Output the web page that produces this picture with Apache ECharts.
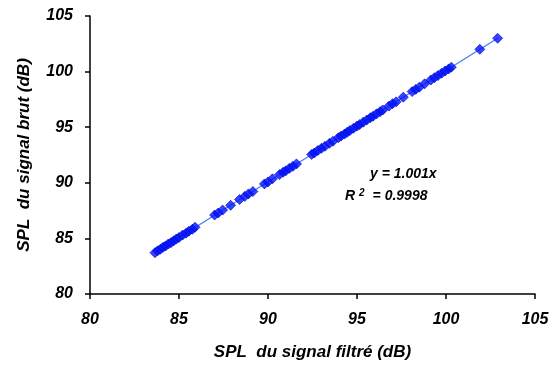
<!DOCTYPE html>
<html><head><meta charset="utf-8">
<script src="https://cdn.jsdelivr.net/npm/echarts@6/dist/echarts.min.js"></script>
<style>html,body{margin:0;padding:0;background:#fff}#c{width:555px;height:366px}</style>
</head><body><div id="c"></div>
<script>
const xFiltre = [83.65,83.8,83.95,84.1,84.25,84.4,84.55,84.7,84.85,85.0,85.2,85.4,85.55,85.75,85.9,
87.0,87.2,87.45,87.9,88.4,88.7,88.9,89.15,
89.8,90.0,90.25,
90.65,90.85,91.0,91.2,91.4,91.6,
92.45,92.6,92.8,93.0,93.2,93.45,93.65,
93.95,94.1,94.3,94.45,94.6,94.8,95.0,95.15,95.35,95.55,95.75,95.9,96.1,96.3,96.45,
96.8,97.0,97.2,97.6,98.1,98.3,98.5,98.8,
99.15,99.35,99.55,99.75,99.95,100.15,100.3,
101.9,102.9];
const yBrut = [83.72,83.88,84.02,84.2,84.32,84.5,84.62,84.78,84.95,85.08,85.3,85.47,85.65,85.82,86.0,
87.1,87.28,87.55,87.98,88.5,88.78,89.0,89.22,
89.9,90.08,90.36,
90.74,90.95,91.08,91.3,91.48,91.7,
92.55,92.68,92.9,93.1,93.28,93.55,93.74,
94.05,94.2,94.38,94.55,94.7,94.9,95.1,95.24,95.45,95.65,95.85,95.98,96.2,96.4,96.55,
96.9,97.12,97.28,97.7,98.2,98.4,98.6,98.9,
99.25,99.45,99.65,99.85,100.05,100.24,100.4,
102.0,103.0];
const slope = 1.001;
const eqLabel = 'y = 1.001x';
const r2Value = '0.9998';
const axisTicks = [80,85,90,95,100,105];

const pts = xFiltre.map((x,i)=>[x,yBrut[i]]);
const xmin = Math.min(...xFiltre), xmax = Math.max(...xFiltre);
const trend = [[xmin, slope*xmin],[xmax, slope*xmax]];
const ff = '"Liberation Sans", Arial, sans-serif';
const chart = echarts.init(document.getElementById('c'));
chart.setOption({
  animation:false,
  grid:{left:90,right:20,top:16,bottom:70},
  xAxis:{type:'value',min:axisTicks[0],max:axisTicks[axisTicks.length-1],interval:5,
    name:'SPL  du signal filtré (dB)',nameLocation:'middle',nameGap:50,
    nameTextStyle:{fontFamily:ff,fontSize:17,fontWeight:'bold',fontStyle:'italic',color:'#000'},
    axisLine:{lineStyle:{color:'#000',width:1.5}},
    axisTick:{show:true,inside:false,length:5,lineStyle:{color:'#000',width:1.5}},
    axisLabel:{fontFamily:ff,fontSize:16,fontWeight:'bold',fontStyle:'italic',color:'#000',margin:18},
    splitLine:{show:false}},
  yAxis:{type:'value',min:axisTicks[0],max:axisTicks[axisTicks.length-1],interval:5,
    name:'SPL  du signal brut (dB)',nameLocation:'middle',nameGap:57,
    nameTextStyle:{fontFamily:ff,fontSize:17,fontWeight:'bold',fontStyle:'italic',color:'#000'},
    axisLine:{show:true,lineStyle:{color:'#000',width:1.5}},
    axisTick:{show:true,inside:false,length:5,lineStyle:{color:'#000',width:1.5}},
    axisLabel:{fontFamily:ff,fontSize:16,fontWeight:'bold',fontStyle:'italic',color:'#000',margin:17},
    splitLine:{show:false}},
  series:[
    {type:'line',data:trend,symbol:'none',lineStyle:{color:'#3d7bff',width:1.2},z:1},
    {type:'scatter',data:pts,symbol:'diamond',symbolSize:10,itemStyle:{color:'#0014ff',borderColor:'#0000c8',borderWidth:0.8},z:2}
  ],
  graphic:[
    {type:'text',left:370,top:167,style:{text:eqLabel,font:'italic bold 14px '+ff,fill:'#000'}},
    {type:'text',left:345,top:188,style:{rich:{n:{font:'italic bold 14px '+ff,fill:'#000'},s:{font:'italic bold 10px '+ff,fill:'#000',verticalAlign:'top',padding:[0,4,7,4]}},
      text:'{n|R}{s|2}{n| = '+r2Value+'}'}}
  ]
});
</script></body></html>
